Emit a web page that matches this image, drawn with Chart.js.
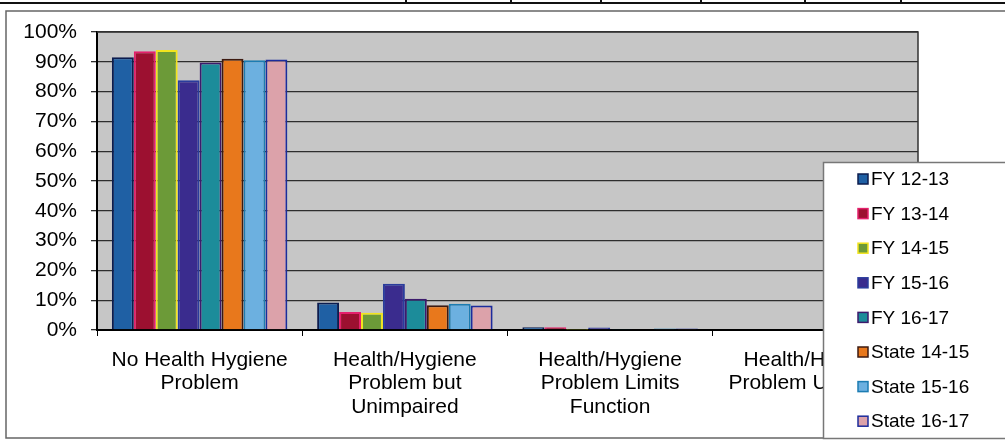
<!DOCTYPE html>
<html>
<head>
<meta charset="utf-8">
<script src="https://cdn.jsdelivr.net/npm/chart.js@4.4.1/dist/chart.umd.min.js"></script>
<style>
  html, body { margin: 0; padding: 0; background: #fff; }
  #wrap { width: 1005px; height: 445px; }
</style>
</head>
<body>
<div id="wrap"><canvas id="myChart" width="1005" height="445"></canvas></div>
<script>
// categories (x axis), each label split into lines
const categories = [
  ["No Health Hygiene", "Problem"],
  ["Health/Hygiene", "Problem but", "Unimpaired"],
  ["Health/Hygiene", "Problem Limits", "Function"],
  ["Health/Hygiene", "Problem Unable to"]
];

// series values, percent
const fy1213 = [91.5, 9.2, 0.9, 0];
const fy1314 = [93.5, 6.0, 0.9, 0];
const fy1415 = [94.0, 5.8, 0.1, 0];
const fy1516 = [83.8, 15.5, 0.8, 0];
const fy1617 = [89.8, 10.5, 0.2, 0];
const state1415 = [91.0, 8.3, 0.3, 0];
const state1516 = [90.5, 8.8, 0.5, 0];
const state1617 = [90.8, 8.2, 0.5, 0];

const seriesNames = ["FY 12-13", "FY 13-14", "FY 14-15", "FY 15-16", "FY 16-17",
  "State 14-15", "State 15-16", "State 16-17"];
const seriesData = [fy1213, fy1314, fy1415, fy1516, fy1617, state1415, state1516, state1617];
const fills = ["#1f60a4", "#9c1030", "#6c9a38", "#3a2c8e", "#1c8c9a", "#e8781c", "#6cb0e0", "#dca2aa"];
const borders = ["#0c1c4e", "#e4206c", "#f2e41e", "#2a3c9c", "#3c1a6c", "#3c1a10", "#1c7cb2", "#1c2c9c"];

const yTicks = [0, 10, 20, 30, 40, 50, 60, 70, 80, 90, 100];

const FONT = "'Liberation Sans', Arial, sans-serif";

// gray plot background + top/right border of plot area + page frame
const framePlugin = {
  id: 'frame',
  beforeDraw(chart) {
    const ctx = chart.ctx;
    const a = chart.chartArea;
    ctx.save();
    ctx.fillStyle = '#c6c6c6';
    ctx.fillRect(a.left, a.top, a.right - a.left, a.bottom - a.top);
    // scanned table lines at very top
    ctx.strokeStyle = '#111';
    ctx.lineWidth = 2;
    ctx.beginPath();
    ctx.moveTo(0, 3); ctx.lineTo(1005, 3);
    [406, 511, 601, 701, 805, 901].forEach(x => { ctx.moveTo(x, 0); ctx.lineTo(x, 3); });
    ctx.stroke();
    // outer frame
    ctx.strokeStyle = '#666';
    ctx.lineWidth = 1.5;
    ctx.beginPath();
    ctx.moveTo(1005, 11); ctx.lineTo(6, 11); ctx.lineTo(6, 438); ctx.lineTo(1005, 438);
    ctx.stroke();
    ctx.restore();
  },
  afterDatasetsDraw(chart) {
    const ctx = chart.ctx;
    const a = chart.chartArea;
    ctx.save();
    ctx.strokeStyle = '#333';
    ctx.lineWidth = 1.5;
    ctx.beginPath();
    ctx.moveTo(a.left, a.top); ctx.lineTo(a.right, a.top); ctx.lineTo(a.right, a.bottom);
    ctx.stroke();
    ctx.restore();
  }
};

// legend box overlapping the plot, as in the original
const legendPlugin = {
  id: 'boxLegend',
  afterDraw(chart) {
    const ctx = chart.ctx;
    const x0 = 823, y0 = 162, w = 190, h = 276;
    ctx.save();
    ctx.fillStyle = '#fff';
    ctx.fillRect(x0, y0, w, h);
    ctx.strokeStyle = '#777';
    ctx.lineWidth = 1.5;
    ctx.strokeRect(x0 + 0.5, y0 + 0.5, w, h);
    ctx.font = '19px ' + FONT;
    ctx.textBaseline = 'middle';
    chart.data.datasets.forEach((ds, i) => {
      const cy = 179 + i * 34.6;
      ctx.fillStyle = ds.backgroundColor;
      ctx.fillRect(858, cy - 5, 10, 10);
      ctx.strokeStyle = ds.borderColor;
      ctx.lineWidth = 1.5;
      ctx.strokeRect(858, cy - 5, 10, 10);
      ctx.fillStyle = '#000';
      ctx.fillText(ds.label, 871, cy + 1);
    });
    ctx.restore();
  }
};

new Chart(document.getElementById('myChart').getContext('2d'), {
  type: 'bar',
  data: {
    labels: categories,
    datasets: seriesNames.map((name, i) => ({
      label: name,
      data: seriesData[i],
      backgroundColor: fills[i],
      borderColor: borders[i],
      borderWidth: 2,
      borderSkipped: 'bottom',
      categoryPercentage: 0.855,
      barPercentage: 1.0
    }))
  },
  options: {
    responsive: false,
    animation: false,
    devicePixelRatio: 1,
    layout: { padding: { top: 32, right: 87, left: 0, bottom: 0 } },
    plugins: {
      legend: { display: false },
      tooltip: { enabled: false }
    },
    scales: {
      x: {
        afterFit(scale) { scale.height = 115; },
        grid: { drawOnChartArea: false, drawTicks: true, tickLength: 6, color: '#000', offset: true },
        border: { color: '#000', width: 2 },
        ticks: {
          color: '#000', maxRotation: 0, autoSkip: false, padding: 12,
          font: { family: FONT, size: 21, lineHeight: 1.12 }
        }
      },
      y: {
        min: 0, max: 100,
        afterFit(scale) { scale.width = 97; },
        afterBuildTicks(scale) { scale.ticks = yTicks.map(v => ({ value: v })); },
        grid: { color: '#2e2e2e', lineWidth: 1.3, tickLength: 6 },
        border: { color: '#000', width: 2 },
        ticks: {
          color: '#000', padding: 14,
          font: { family: FONT, size: 21 },
          callback: v => v + '%'
        }
      }
    }
  },
  plugins: [framePlugin, legendPlugin]
});
</script>
</body>
</html>
